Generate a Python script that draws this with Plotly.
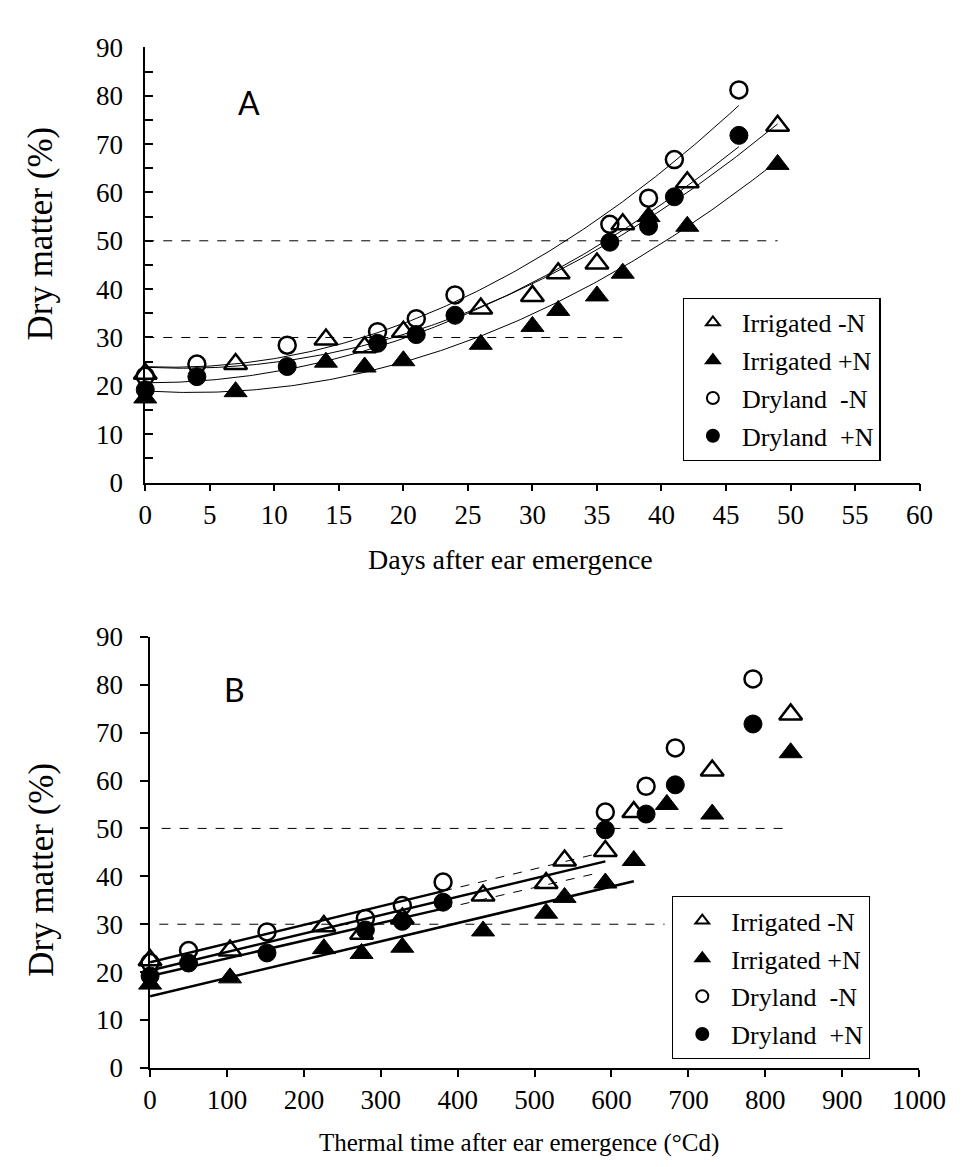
import numpy as np
import plotly.graph_objects as go

# ---------------- data ----------------
# Panel A: days after ear emergence
irr_minus_days = [0, 7, 14, 17, 20, 26, 30, 32, 35, 37, 42, 49]
irr_plus_days = [0, 7, 14, 17, 20, 26, 30, 32, 35, 37, 39, 42, 49]
dry_days = [0, 4, 11, 18, 21, 24, 36, 39, 41, 46]

# Panel B: thermal time after ear emergence (°Cd)
irr_minus_tt = [0, 104, 226, 275, 328, 433, 515, 539, 592, 629, 731, 833]
irr_plus_tt = [0, 104, 226, 275, 328, 433, 515, 539, 592, 629, 672, 731, 833]
dry_tt = [0, 50, 152, 280, 328, 381, 592, 645, 683, 784]

# dry matter (%)
irr_minus_N = [22.5, 24.5, 29.6, 28.0, 31.2, 36.0, 38.6, 43.3, 45.3, 53.4, 62.1, 73.8]
irr_plus_N = [17.5, 18.8, 24.9, 23.9, 25.2, 28.6, 32.3, 35.6, 38.6, 43.3, 55.0, 53.0, 65.8]
dry_minus_N = [22.0, 24.5, 28.4, 31.2, 33.9, 38.8, 53.4, 58.8, 66.8, 81.2]
dry_plus_N = [19.2, 21.9, 24.0, 28.8, 30.6, 34.6, 49.7, 53.0, 59.1, 71.8]

series_names = ["Irrigated -N", "Irrigated +N", "Dryland\u00a0 -N", "Dryland\u00a0 +N"]

# number of points (from start) used for the linear fits in panel B
lin_fit_n = [9, 10, 6, 6]
# dashed extension end of dryland fits (°Cd)
dry_ext_end = 575

# reference lines (y, x-start, x-end)
refA = [(50, 0, 49), (30, 0, 37)]
refB = [(50, 15, 828), (30, 12, 669)]

# ---------------- styles ----------------
SERIF = "Liberation Serif"
markers = [
    dict(symbol="triangle-up-open", size=20, color="black", line=dict(width=2.5, color="black")),
    dict(symbol="triangle-up", size=20, color="black", line=dict(width=1, color="black")),
    dict(symbol="circle-open", size=17, color="black", line=dict(width=2.5, color="black")),
    dict(symbol="circle", size=18, color="black", line=dict(width=1, color="black")),
]

fig = go.Figure()

A_x = [irr_minus_days, irr_plus_days, dry_days, dry_days]
B_x = [irr_minus_tt, irr_plus_tt, dry_tt, dry_tt]
Y = [irr_minus_N, irr_plus_N, dry_minus_N, dry_plus_N]

# Panel A quadratic trend curves
for xs, ys in zip(A_x, Y):
    c = np.polyfit(xs, ys, 2)
    xx = np.linspace(0, max(xs), 200)
    fig.add_trace(go.Scatter(x=xx, y=np.polyval(c, xx), mode="lines",
                             line=dict(color="black", width=1),
                             showlegend=False, hoverinfo="skip",
                             xaxis="x", yaxis="y"))

# Panel B linear fits
for i, (xs, ys) in enumerate(zip(B_x, Y)):
    n = lin_fit_n[i]
    c = np.polyfit(xs[:n], ys[:n], 1)
    xe = xs[n - 1]
    fig.add_trace(go.Scatter(x=[0, xe], y=np.polyval(c, [0, xe]), mode="lines",
                             line=dict(color="black", width=2.5),
                             showlegend=False, hoverinfo="skip",
                             xaxis="x2", yaxis="y2"))
    if i >= 2:
        fig.add_trace(go.Scatter(x=[xe, dry_ext_end], y=np.polyval(c, [xe, dry_ext_end]),
                                 mode="lines", line=dict(color="black", width=1, dash="dash"),
                                 showlegend=False, hoverinfo="skip",
                                 xaxis="x2", yaxis="y2"))

# reference dashed lines
for (yv, x0, x1) in refA:
    fig.add_trace(go.Scatter(x=[x0, x1], y=[yv, yv], mode="lines",
                             line=dict(color="black", width=1, dash="dash"),
                             showlegend=False, hoverinfo="skip", xaxis="x", yaxis="y"))
for (yv, x0, x1) in refB:
    fig.add_trace(go.Scatter(x=[x0, x1], y=[yv, yv], mode="lines",
                             line=dict(color="black", width=1, dash="dash"),
                             showlegend=False, hoverinfo="skip", xaxis="x2", yaxis="y2"))

# points
for i in range(4):
    fig.add_trace(go.Scatter(x=A_x[i], y=Y[i], mode="markers", name=series_names[i],
                             marker=markers[i], cliponaxis=False,
                             legend="legend", legendgroup="a%d" % i,
                             xaxis="x", yaxis="y"))
for i in range(4):
    fig.add_trace(go.Scatter(x=B_x[i], y=Y[i], mode="markers", name=series_names[i],
                             marker=markers[i], cliponaxis=False,
                             legend="legend2", legendgroup="b%d" % i,
                             xaxis="x2", yaxis="y2"))

W, H = 968, 1167
axis_common = dict(showline=True, linecolor="black", linewidth=1.5, showgrid=False,
                   zeroline=False, tickcolor="black", tickwidth=1.5,
                   tickfont=dict(family=SERIF, size=27, color="black"))

legend_common = dict(bgcolor="white", bordercolor="black", borderwidth=1.2,
                     font=dict(family=SERIF, size=26, color="black"),
                     itemsizing="constant", tracegroupgap=1, itemwidth=48,
                     xanchor="left", yanchor="top")

fig.update_layout(
    width=W, height=H, margin=dict(l=0, r=0, t=0, b=0),
    paper_bgcolor="white", plot_bgcolor="white",
    xaxis=dict(domain=[135 / W, 937.5 / W], range=[0, 60], dtick=5, ticks="outside",
               ticklen=7, anchor="y", **axis_common),
    yaxis=dict(domain=[1 - 471.7 / H, 1 - 25 / H], range=[0, 90], dtick=10, ticks="inside",
               ticklen=8, anchor="x", ticklabelstandoff=15,
               minor=dict(dtick=5, ticks="inside", ticklen=8, tickcolor="black", tickwidth=1.5),
               **axis_common),
    xaxis2=dict(domain=[140 / W, 937 / W], range=[0, 1000], dtick=100, ticks="outside",
                ticklen=7, anchor="y2", **axis_common),
    yaxis2=dict(domain=[1 - 1072.5 / H, 1 - 630 / H], range=[0, 90], dtick=10, ticks="outside",
                ticklen=8, anchor="x2", ticklabelstandoff=12, **axis_common),
    legend=dict(x=692 / W, y=1 - 282 / H, **legend_common),
    legend2=dict(x=681 / W, y=1 - 896 / H, **legend_common),
)

title_font = dict(family=SERIF, size=28, color="black")
ytitle_font = dict(family=SERIF, size=35, color="black")
ann = [
    dict(text="A", x=243 / W, y=1 - 82 / H, font=dict(family="Lato", size=32, color="black")),
    dict(text="B", x=227 / W, y=1 - 684 / H, font=dict(family="Lato", size=32, color="black")),
    dict(text="Days after ear emergence", x=514 / W, y=1 - 551 / H, font=title_font),
    dict(text="Thermal time after ear emergence (°Cd)", x=522 / W, y=1 - 1150 / H,
         font=dict(family=SERIF, size=25, color="black")),
    dict(text="Dry matter (%)", x=26 / W, y=1 - 216 / H, textangle=-90, font=ytitle_font),
    dict(text="Dry matter (%)", x=28 / W, y=1 - 869 / H, textangle=-90, font=ytitle_font),
]
for a in ann:
    a.update(xref="paper", yref="paper", showarrow=False, xanchor="center", yanchor="middle")
fig.update_layout(annotations=ann)

fig.write_html("out.html")
